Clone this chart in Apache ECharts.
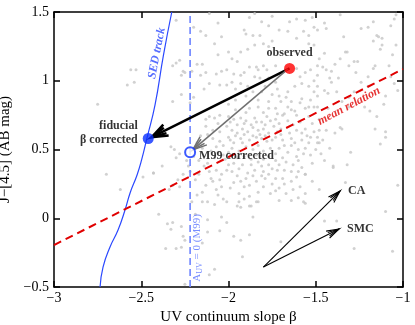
<!DOCTYPE html>
<html>
<head>
<meta charset="utf-8">
<script src="https://cdn.jsdelivr.net/npm/echarts@6/dist/echarts.min.js"></script>
<style>
html, body { margin: 0; padding: 0; background: #fff; }
#chart { width: 415px; height: 325px; }
</style>
</head>
<body>
<div id="chart"></div>
<script>
// galaxy sample (UV slope beta, J-[4.5])
const sample = [
  [-2.30,1.44],[-2.11,1.49],[-2.06,1.42],[-2.20,1.39],[-2.16,1.36],[-2.13,1.33],[-2.04,1.32],[-2.08,1.27],
  [-2.06,1.19],[-2.28,1.15],[-2.30,1.13],[-2.32,1.11],[-2.18,1.12],[-2.15,1.12],[-2.26,1.07],[-2.25,1.06],
  [-2.27,1.04],[-2.21,1.07],[-2.16,1.04],[-2.13,1.06],[-2.07,1.05],[-2.04,1.07],[-2.53,1.08],[-2.56,1.08],
  [-2.54,0.99],[-2.11,0.98],[-2.05,0.97],[-2.14,0.94],[-2.27,0.90],[-2.20,0.88],[-2.32,0.85],[-2.22,0.84],
  [-2.58,0.97],[-2.75,0.83],
  [-1.88,1.46],[-1.85,1.49],[-1.75,1.47],[-1.65,1.43],[-1.61,1.45],[-1.56,1.44],[-1.52,1.46],[-1.51,1.39],
  [-1.81,1.43],[-1.77,1.40],[-1.71,1.37],[-1.91,1.37],[-1.86,1.33],[-1.82,1.33],[-1.90,1.34],[-1.66,1.36],
  [-1.57,1.36],[-1.54,1.33],[-1.61,1.31],[-1.54,1.27],[-1.51,1.26],[-1.75,1.29],[-1.80,1.27],[-1.77,1.25],
  [-1.85,1.26],[-1.89,1.23],[-1.93,1.21],[-2.00,1.21],[-1.98,1.16],[-1.95,1.14],[-2.01,1.08],[-1.97,1.05],
  [-1.93,1.04],[-1.91,1.06],[-1.88,1.10],[-1.84,1.10],[-1.83,1.08],[-1.80,1.11],[-1.78,1.08],[-1.73,1.11],
  [-1.85,1.03],[-1.82,1.02],[-1.77,1.02],[-1.73,0.99],[-1.98,0.99],[-2.01,0.97],[-1.93,0.98],[-1.89,0.96],
  [-1.86,0.92],[-1.81,0.92],[-1.79,0.96],[-1.72,0.94],[-1.71,0.89],[-1.66,0.92],[-1.62,0.96],[-1.58,0.98],
  [-1.54,0.96],[-1.51,1.00],[-1.59,1.03],[-1.56,1.06],[-1.53,1.08],[-1.61,1.09],[-1.64,0.85],[-1.58,0.87],
  [-1.53,0.86],[-1.83,0.86],[-1.77,0.85],[-1.70,0.85],[-1.96,0.86],[-2.00,0.83],[-1.51,0.92],[-1.54,0.81],
  [-1.36,1.48],[-1.05,1.45],[-1.45,1.42],[-1.44,1.38],[-1.49,1.37],[-1.34,1.32],[-1.24,1.38],[-1.20,1.39],
  [-1.17,1.43],[-1.04,1.48],[-1.07,1.40],[-1.14,1.32],[-1.15,1.33],[-1.17,1.29],[-1.12,1.31],[-1.04,1.26],
  [-1.33,1.21],[-1.32,1.21],[-1.12,1.26],[-1.45,1.20],[-1.48,1.16],[-1.13,1.23],[-1.06,1.19],[-1.28,1.14],
  [-1.26,1.14],[-1.36,1.16],[-1.39,1.12],[-1.49,1.11],[-1.46,1.10],[-1.44,1.08],[-1.41,1.07],[-1.42,1.02],
  [-1.41,0.99],[-1.49,1.04],[-1.31,1.11],[-1.16,1.11],[-1.17,1.09],[-1.27,1.06],[-1.20,1.03],[-1.08,1.11],
  [-1.37,1.02],[-1.24,0.99],[-1.38,0.92],[-1.45,0.93],[-1.43,0.91],[-1.49,0.96],[-1.49,0.89],[-1.31,0.88],
  [-1.28,0.92],[-1.20,0.96],[-1.10,0.89],[-1.03,0.93],[-1.07,1.03],[-1.05,0.98],[-1.11,0.83],[-1.35,0.85],
  [-2.13,0.72],[-2.11,0.74],[-2.08,0.73],[-2.05,0.75],[-2.06,0.69],[-2.13,0.67],[-2.09,0.64],[-2.05,0.63],
  [-2.12,0.61],[-2.09,0.58],[-2.05,0.56],[-2.33,0.52],[-2.31,0.50],[-2.28,0.47],[-2.30,0.44],[-2.06,0.48],
  [-2.03,0.46],[-2.08,0.44],[-2.12,0.40],[-2.14,0.38],[-2.11,0.34],[-2.07,0.35],[-2.04,0.32],[-2.05,0.28],
  [-2.09,0.27],[-2.13,0.24],[-2.17,0.32],[-2.19,0.28],[-2.26,0.32],[-2.29,0.28],[-2.32,0.24],[-2.34,0.21],
  [-2.28,0.23],[-2.38,0.38],[-2.43,0.33],[-2.49,0.30],[-2.23,0.38],[-2.04,0.23],[-2.07,0.21],[-2.15,0.19],
  [-2.18,0.17],[-2.06,0.17],[-2.70,0.32],[-2.62,0.21],[-2.43,0.33],
  [-1.96,0.79],[-1.88,0.80],[-1.83,0.81],[-1.77,0.80],[-1.73,0.80],[-1.66,0.81],[-1.64,0.79],[-1.56,0.80],
  [-1.51,0.81],[-1.68,0.76],[-1.61,0.75],[-1.54,0.74],[-2.00,0.74],[-1.97,0.72],[-1.93,0.73],[-1.91,0.69],
  [-1.87,0.68],[-1.85,0.73],[-1.81,0.70],[-1.78,0.74],[-1.73,0.72],[-1.71,0.69],[-1.74,0.67],[-1.70,0.65],
  [-2.01,0.67],[-1.98,0.64],[-1.95,0.62],[-1.92,0.65],[-1.89,0.63],[-1.83,0.64],[-1.80,0.65],[-1.77,0.62],
  [-2.00,0.59],[-1.99,0.57],[-1.97,0.55],[-1.93,0.58],[-1.92,0.55],[-1.88,0.57],[-1.84,0.59],[-1.81,0.58],
  [-1.78,0.56],[-1.73,0.59],[-1.70,0.61],[-1.65,0.62],[-1.61,0.64],[-1.56,0.65],[-1.53,0.59],[-1.58,0.57],
  [-1.62,0.55],[-1.68,0.53],[-1.71,0.51],[-1.66,0.48],[-1.56,0.51],[-1.53,0.46],[-1.61,0.45],[-1.52,0.40],
  [-1.56,0.32],[-1.61,0.30],[-1.68,0.35],[-1.71,0.39],[-1.72,0.35],[-1.77,0.39],[-1.81,0.38],[-1.85,0.35],
  [-1.89,0.33],[-1.94,0.36],[-1.98,0.34],[-2.00,0.39],[-1.93,0.27],[-1.91,0.23],[-1.94,0.18],[-1.99,0.22],
  [-1.84,0.27],[-1.79,0.29],[-1.75,0.25],[-1.71,0.22],[-1.76,0.18],[-1.83,0.19],[-1.88,0.16],[-1.64,0.27],
  [-1.59,0.23],[-1.69,0.29],[-1.52,0.27],[-1.56,0.18],
  [-1.49,0.81],[-1.43,0.80],[-1.31,0.81],[-1.22,0.81],[-1.19,0.78],[-1.15,0.74],[-1.35,0.65],[-1.36,0.66],
  [-1.39,0.62],[-1.44,0.64],[-1.48,0.64],[-1.49,0.59],[-1.46,0.57],[-1.49,0.55],[-1.48,0.55],[-1.16,0.65],
  [-1.10,0.63],[-1.10,0.59],[-1.13,0.54],[-1.42,0.51],[-1.30,0.48],[-1.45,0.42],[-1.32,0.39],[-1.40,0.37],
  [-1.33,0.26],[-1.48,0.21],[-1.03,0.24],[-1.56,0.32],[-1.40,0.38],
  [-2.21,0.12],[-2.15,0.12],[-2.12,0.12],[-2.08,0.10],[-2.03,0.14],[-2.40,0.03],[-2.35,-0.04],[-2.32,-0.03],
  [-2.33,-0.08],[-2.27,-0.06],[-2.19,0.03],[-2.12,-0.01],[-2.04,0.01],[-2.05,-0.09],[-2.12,-0.10],[-2.26,-0.13],
  [-2.25,-0.16],[-2.30,-0.22],[-2.27,-0.21],[-2.36,-0.22],[-2.15,-0.18],[-2.08,-0.37],[-2.11,-0.41],[-2.25,-0.48],
  [-2.01,0.12],[-1.94,0.12],[-1.91,0.14],[-1.88,0.09],[-1.84,0.12],[-1.83,0.12],[-1.71,0.13],[-1.64,0.13],
  [-1.56,0.11],[-1.57,0.12],[-1.95,0.09],[-1.93,0.08],[-1.87,0.09],[-2.01,-0.03],[-1.86,0.01],[-1.88,-0.12],
  [-1.97,-0.13],[-1.93,-0.16],[-1.70,-0.17],[-1.92,-0.28],
  [-1.10,0.05],[-1.28,-0.22],[-1.06,-0.24],[-1.38,-0.02],[-1.45,-0.02],
  // denser core, read from the crowded middle of the cloud
  [-1.99,0.70],[-1.95,0.68],[-1.90,0.71],[-1.86,0.66],[-1.84,0.70],[-1.79,0.68],[-1.76,0.71],[-1.72,0.63],
  [-1.96,0.60],[-1.91,0.61],[-1.86,0.60],[-1.82,0.61],[-1.79,0.60],[-1.75,0.57],[-1.69,0.57],[-1.64,0.58],
  [-1.98,0.51],[-1.94,0.49],[-1.90,0.52],[-1.86,0.50],[-1.83,0.53],[-1.80,0.49],[-1.76,0.51],[-1.73,0.47],
  [-1.95,0.44],[-1.91,0.45],[-1.87,0.43],[-1.84,0.46],[-1.80,0.43],[-1.77,0.45],[-1.73,0.42],[-1.69,0.44],
  [-2.02,0.43],[-2.00,0.48],[-2.03,0.53],[-2.07,0.52],[-2.10,0.49],[-2.01,0.35],[-1.97,0.40],[-1.92,0.39],
  [-1.87,0.39],[-1.83,0.41],[-1.80,0.34],[-1.75,0.36],[-1.67,0.41],[-1.63,0.39],[-1.60,0.42],[-1.58,0.37],
  [-1.64,0.34],[-1.60,0.34],[-1.95,0.31],[-1.90,0.29],[-1.86,0.31],[-1.81,0.31],[-1.77,0.32],[-1.73,0.29],
  [-1.68,0.25],[-1.63,0.21],[-1.97,0.26],[-1.88,0.24],[-1.80,0.23],[-1.73,0.20],[-1.67,0.18],[-1.60,0.15],
  [-2.16,0.60],[-2.18,0.55],[-2.15,0.51],[-2.20,0.45],[-2.17,0.42],[-2.24,0.42],[-2.22,0.34],[-2.10,0.29],
  [-1.66,0.71],[-1.63,0.68],[-1.59,0.70],[-1.58,0.62],[-1.55,0.60],[-1.51,0.63],[-1.52,0.69],[-1.48,0.72],
  [-1.64,0.53],[-1.60,0.50],[-1.57,0.47],[-1.54,0.55],[-1.50,0.50],[-1.47,0.47],[-1.69,0.75],[-1.62,0.78],
  [-1.90,0.77],[-1.80,0.77],[-1.72,0.76],[-1.59,0.84],[-1.67,0.88],[-1.75,0.90],[-1.90,0.89],[-1.96,0.94]
]

// SED track (beta, J-[4.5])
const sedBeta  = [-2.736, -2.719, -2.679, -2.633, -2.593, -2.564, -2.524, -2.498, -2.467, -2.421, -2.373, -2.325]
const sedColor = [-0.50, -0.355, -0.209, -0.086, 0.06, 0.184, 0.315, 0.424, 0.584, 0.824, 1.185, 1.50]

// mean relation end points
const meanBeta = [-3, -1]
const meanColor = [-0.195, 1.085]

// A_UV = 0 for Meurer et al. 1999
const m99Beta = -2.22

const observed = [-1.65, 1.09]
const fiducial = [-2.46, 0.58]
const m99corr = [-2.22, 0.48]

// arrows [x0, y0, x1, y1]
const fidArrow = [[-1.65, 1.09, -2.44, 0.59]]
const m99Arrow = [[-1.66, 1.085, -2.205, 0.497]]
const dustArrows = [[-1.80, -0.355, -1.361, 0.198], [-1.80, -0.355, -1.367, -0.078]]

const xTicks = [-3, -2.5, -2, -1.5, -1]
const yTicks = [-0.5, 0, 0.5, 1, 1.5]

const serif = '"Liberation Serif", "DejaVu Serif", serif'
const minus = v => String(v).replace('-', '\u2212')

function arrowSeries(data, color, width, head, spread) {
  return {
    type: 'custom',
    data: data,
    z: 5,
    silent: true,
    renderItem: function (params, api) {
      const p0 = api.coord([api.value(0), api.value(1)])
      const p1 = api.coord([api.value(2), api.value(3)])
      const ang = Math.atan2(p1[1] - p0[1], p1[0] - p0[0])
      const barb = (a, l) => [p1[0] - l * Math.cos(ang - a), p1[1] - l * Math.sin(ang - a)]
      const st = {stroke: color, lineWidth: width, fill: null}
      return {
        type: 'group',
        children: [
          {type: 'line', shape: {x1: p0[0], y1: p0[1], x2: p1[0], y2: p1[1]}, style: st},
          {type: 'polyline', shape: {points: [barb(spread, head), p1, barb(-spread, head)]}, style: st},
          {type: 'polyline', shape: {points: [barb(spread * 0.55, head * 0.9), p1, barb(-spread * 0.55, head * 0.9)]}, style: st}
        ]
      }
    }
  }
}

function note(pos, text, extra) {
  return {
    type: 'scatter',
    symbolSize: 0,
    silent: true,
    z: 6,
    data: [{value: pos}],
    label: Object.assign({
      show: true,
      formatter: text,
      fontFamily: serif,
      fontSize: 12,
      fontWeight: 'bold',
      color: '#000'
    }, extra)
  }
}

const chart = echarts.init(document.getElementById('chart'), null, {renderer: 'canvas'})

const axisCommon = {
  type: 'value',
  interval: 0.5,
  splitLine: {show: false},
  axisLine: {show: true, onZero: false, lineStyle: {color: '#000', width: 1.5}},
  axisTick: {show: true, inside: true, length: 6, lineStyle: {color: '#000', width: 1.5}}
}

chart.setOption({
  animation: false,
  backgroundColor: '#fff',
  grid: {left: 54, right: 12, top: 12, bottom: 38, containLabel: false, outerBoundsMode: 'none'},
  xAxis: [
    Object.assign({}, axisCommon, {
      min: xTicks[0], max: xTicks[xTicks.length - 1], position: 'bottom',
      name: 'UV continuum slope \u03b2', nameLocation: 'middle', nameGap: 20,
      nameTextStyle: {fontFamily: serif, fontSize: 15, color: '#000'},
      axisLabel: {formatter: minus, fontFamily: serif, fontSize: 14, color: '#000', margin: 4}
    }),
    Object.assign({}, axisCommon, {
      min: xTicks[0], max: xTicks[xTicks.length - 1], position: 'top',
      axisLabel: {show: false}
    })
  ],
  yAxis: [
    Object.assign({}, axisCommon, {
      min: yTicks[0], max: yTicks[yTicks.length - 1], position: 'left',
      name: 'J\u2212[4.5] (AB mag)', nameLocation: 'middle', nameGap: 33,
      nameTextStyle: {fontFamily: serif, fontSize: 15, color: '#000'},
      axisLabel: {formatter: minus, fontFamily: serif, fontSize: 14, color: '#000', margin: 5}
    }),
    Object.assign({}, axisCommon, {
      min: yTicks[0], max: yTicks[yTicks.length - 1], position: 'right',
      axisLabel: {show: false}
    })
  ],
  series: [
    {
      type: 'scatter',
      data: sample,
      symbolSize: 3,
      itemStyle: {color: '#c6c6c6'},
      silent: true,
      z: 1
    },
    {
      type: 'line',
      data: sedBeta.map((b, i) => [b, sedColor[i]]),
      smooth: true,
      showSymbol: false,
      lineStyle: {color: '#2a48ff', width: 1.2},
      z: 2
    },
    {
      type: 'line',
      data: [[m99Beta, yTicks[0]], [m99Beta, yTicks[yTicks.length - 1]]],
      showSymbol: false,
      lineStyle: {color: '#6d84ff', width: 1.6, type: [7, 4]},
      z: 2
    },
    {
      type: 'line',
      data: meanBeta.map((b, i) => [b, meanColor[i]]),
      showSymbol: false,
      lineStyle: {color: '#e00000', width: 2, type: [8, 5]},
      z: 3
    },
    arrowSeries(fidArrow, '#000', 2.5, 17, 0.36),
    arrowSeries(m99Arrow, '#707070', 1.5, 15, 0.36),
    arrowSeries(dustArrows, '#000', 1.1, 13, 0.3),
    {
      type: 'scatter',
      z: 7,
      silent: true,
      data: [
        {value: observed, symbolSize: 11, itemStyle: {color: '#ff0000'},
         label: {show: true, formatter: 'observed', position: 'top', distance: 4}},
        {value: fiducial, symbolSize: 11, itemStyle: {color: '#0a30ff'},
         label: {show: true, formatter: 'fiducial\n\u03b2 corrected', position: 'left', distance: 5,
                 align: 'right', offset: [0, -6], lineHeight: 14}},
        {value: m99corr, symbolSize: 10, itemStyle: {color: '#fff', borderColor: '#0a30ff', borderWidth: 2},
         label: {show: true, formatter: 'M99 corrected', position: 'right', distance: 3, offset: [0, 4]}}
      ],
      label: {fontFamily: serif, fontSize: 12, fontWeight: 'bold', color: '#000'}
    },
    note([-1.361, 0.198], 'CA', {position: 'right', distance: 8}),
    note([-1.367, -0.078], 'SMC', {position: 'right', distance: 8}),
    note([-2.41, 1.20], 'SED track', {position: 'inside', rotate: 79, color: '#2a48ff', fontStyle: 'italic'}),
    note([-1.309, 0.816], 'mean relation', {position: 'inside', rotate: 28, color: '#e00000', fontStyle: 'italic'}),
    note([-2.181, -0.216], 'A{s|UV} = 0 (M99)', {
      position: 'inside', rotate: 90, color: '#5670ff', fontWeight: 'normal', fontSize: 11,
      rich: {s: {fontSize: 8, color: '#5670ff', fontFamily: serif, padding: [6, 0, 0, 0]}}
    })
  ]
})
</script>
</body>
</html>
